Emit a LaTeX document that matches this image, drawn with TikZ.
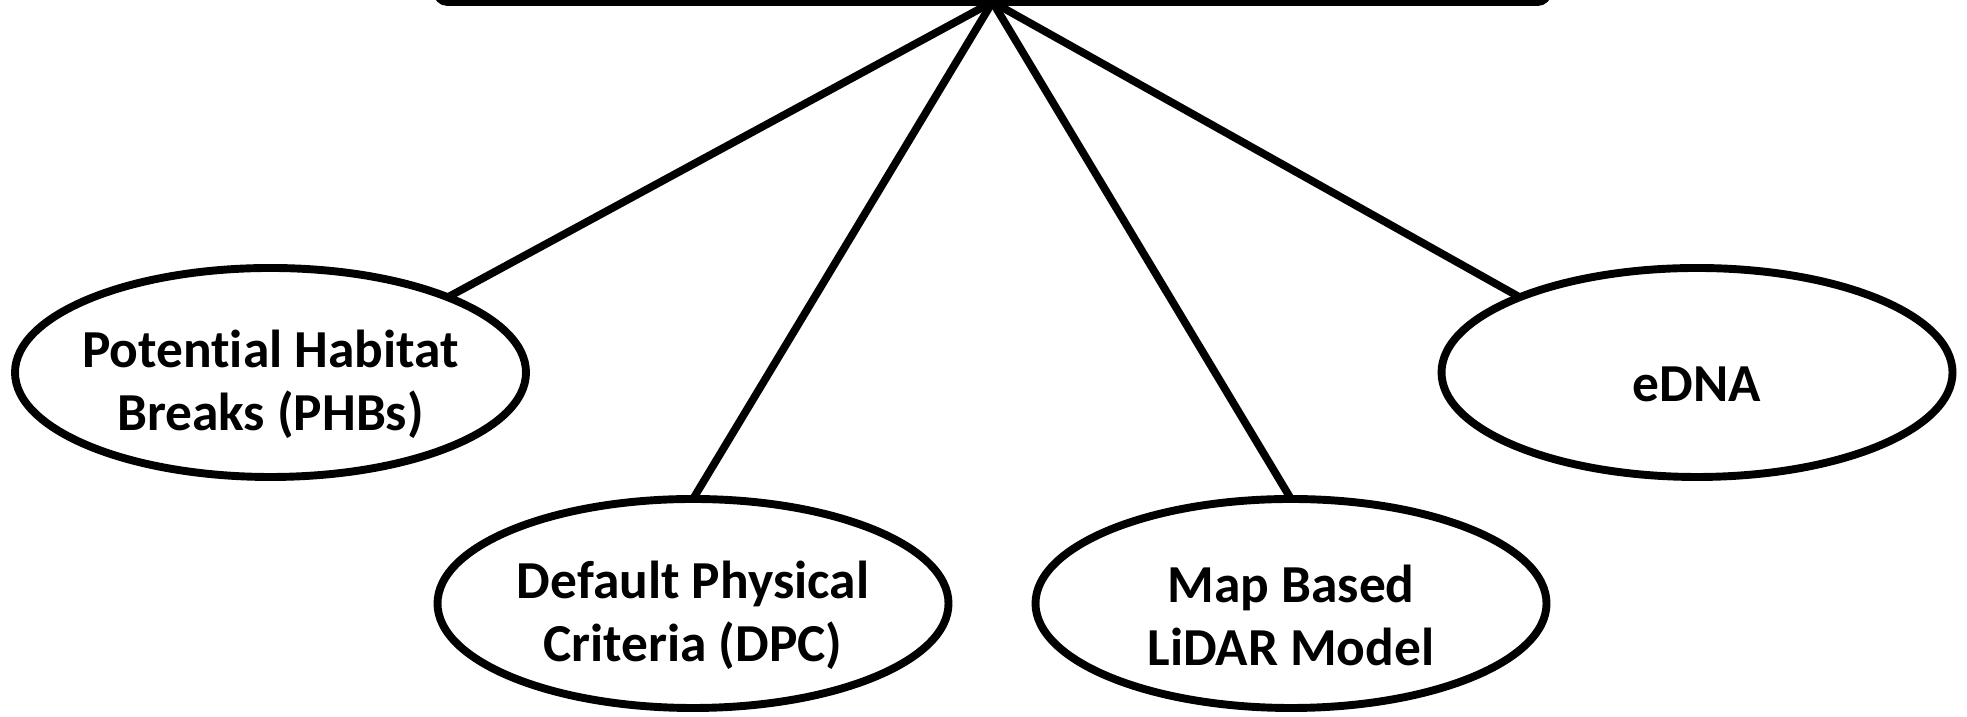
\documentclass[tikz,border=0pt]{standalone}
\usepackage{fontspec}
\setmainfont{Carlito}[Ligatures=NoCommon]
\usepackage{tikz}
\usetikzlibrary{shapes.geometric,positioning}

\begin{document}
\begin{tikzpicture}[
    node distance=0.5cm,
    header/.style={rectangle, draw=black, line width=2.25pt, rounded corners=3pt, minimum width=11.11cm, minimum height=2cm, outer sep=0pt, inner sep=0pt},
    bubble/.style={ellipse, draw=black, line width=2.25pt, minimum width=5.11cm, minimum height=2.09cm, inner sep=0pt, outer sep=0pt},
    caption/.style={align=center, inner sep=0pt, font=\bfseries\fontsize{15.2}{18}\selectfont},
    link/.style={-, black, line width=2.2pt}
]
    % Frame of the picture
    \useasboundingbox (0,0) rectangle (19.67,7.17);
    \clip (0,0) rectangle (19.67,7.17);

    % Top box (only its lower edge is in view)
    \node[header, anchor=south] (top) at (9.925,7.15) {};

    % Upper row of methods
    \node[bubble] (phb) at (2.705,3.445) {};
    \node[bubble] (edna) at (16.97,3.445) {};

    % Lower row of methods
    \node[bubble] (dpc) at (6.93,1.135) {};
    \node[bubble, right=0.87cm of dpc] (lidar) {};

    % Texts, set a little below the centres
    \node[caption] (phbtext) at ([yshift=-0.12cm]phb.center) {Potential Habitat\\Breaks (PHBs)};
    \node[caption] (ednatext) at ([yshift=-0.12cm]edna.center) {eDNA};
    \node[caption] (dpctext) at ([yshift=-0.12cm]dpc.center) {Default Physical\\Criteria (DPC)};
    \node[caption] (lidartext) at ([yshift=-0.12cm]lidar.center) {Map Based\\LiDAR Model};

    % Connections to the top box
    \draw[link] (top.south) -- (phb.23);
    \draw[link] (top.south) -- (dpc.north);
    \draw[link] (top.south) -- (lidar.north);
    \draw[link] (top.south) -- (edna.157);

\end{tikzpicture}
\end{document}
